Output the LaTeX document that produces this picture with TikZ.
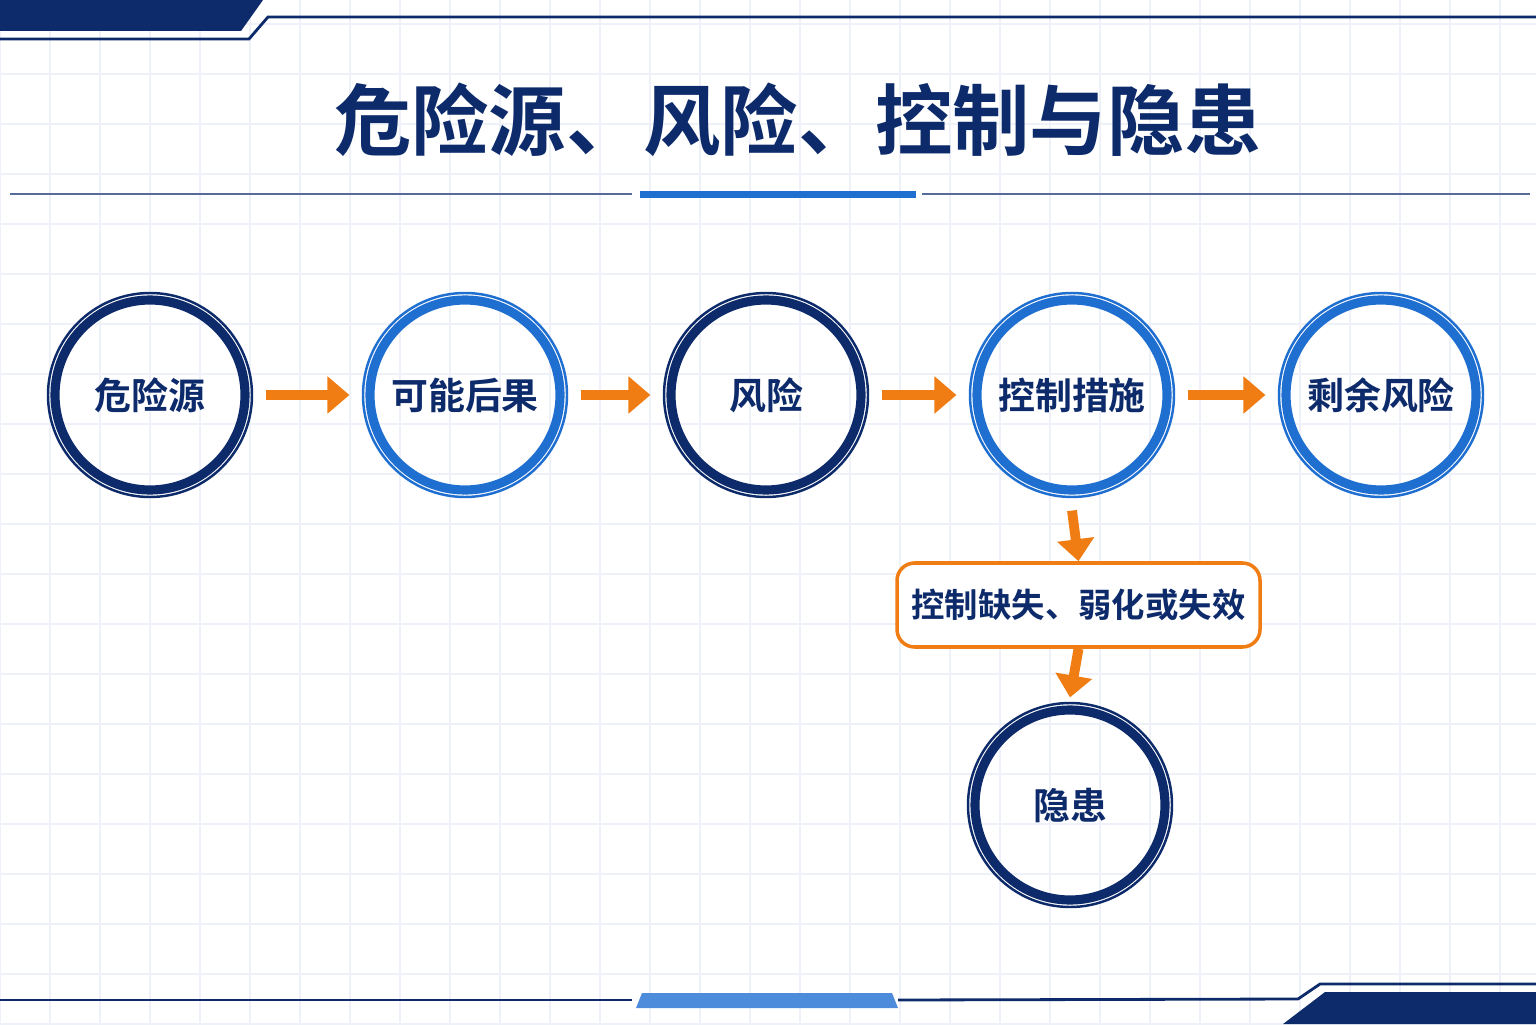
\documentclass[tikz,border=0pt]{standalone}
\usepackage{fontspec}
\newfontfamily\cjk{Noto Sans CJK SC}
\newfontfamily\cjkbold{Noto Sans CJK SC Bold}
\usetikzlibrary{arrows.meta,positioning}
\definecolor{navy}{HTML}{0D2B6B}
\definecolor{midblue}{HTML}{1F6FD1}
\definecolor{flow}{HTML}{F07D14}
\definecolor{gridc}{HTML}{EEF2F8}
\begin{document}
\begin{tikzpicture}[
    stage/.style={circle, draw=#1, line width=2.6pt, minimum size=1.9cm, inner sep=0pt,
      font=\cjkbold\fontsize{10.5}{12}\selectfont, text=navy,
      append after command={\pgfextra{\draw[#1, line width=0.7pt] (\tikzlastnode.center) circle (1.02cm);}}},
    stage/.default=navy,
    fail/.style={rectangle, rounded corners=5pt, draw=flow, line width=1pt, fill=white,
      minimum width=3.63cm, minimum height=0.84cm, font=\cjkbold\fontsize{9.5}{11}\selectfont, text=navy},
    go/.style={draw=flow, line width=2.8pt, -{Triangle[length=0.22cm, width=0.36cm]}}
]
\useasboundingbox (0,0) rectangle (15.36,10.24);
\fill[white] (0,0) rectangle (15.36,10.24);
\draw[gridc, line width=0.3pt, step=0.5] (0,0) grid (15.36,10.24);

% Frame decoration
\fill[navy] (0,10.24) -- (2.63,10.24) -- (2.41,9.93) -- (0,9.93) -- cycle;
\draw[navy, line width=0.8pt] (0,9.85) -- (2.49,9.85) -- (2.68,10.07) -- (15.36,10.07);
\fill[navy] (12.83,0) -- (13.25,0.32) -- (15.36,0.32) -- (15.36,0) -- cycle;
\draw[navy, line width=0.8pt] (0,0.24) -- (6.32,0.24);
\draw[navy, line width=0.8pt] (8.98,0.24) -- (12.98,0.25) -- (13.2,0.40) -- (15.36,0.40);
\fill[midblue!80] (6.36,0.16) -- (8.98,0.16) -- (8.92,0.31) -- (6.42,0.31) -- cycle;

% Title
\node (title) at (7.98,9.04) {\cjkbold\fontsize{22}{26}\selectfont\color{navy}危险源、风险、控制与隐患};
\draw[navy!70, line width=0.6pt] (0.1,8.30) -- (6.32,8.30);
\draw[navy!70, line width=0.6pt] (9.22,8.30) -- (15.3,8.30);
\fill[midblue] (6.40,8.26) rectangle (9.16,8.33);

% Stages
\node[stage] (hazard) at (1.50,6.29) {危险源};
\node[stage=midblue] (conseq) at (4.65,6.29) {可能后果};
\node[stage] (risk) at (7.66,6.29) {风险};
\node[stage=midblue] (control) at (10.72,6.29) {控制措施};
\node[stage=midblue] (residual) at (13.81,6.29) {剩余风险};
\node[fail] (lapse) at (10.785,4.19) {控制缺失、弱化或失效};
\node[stage] (latent) at (10.70,2.19) {隐患};

% Flow
\draw[go] ([xshift=0.16cm]hazard.east) -- ([xshift=-0.16cm]conseq.west);
\draw[go] ([xshift=0.16cm]conseq.east) -- ([xshift=-0.16cm]risk.west);
\draw[go] ([xshift=0.16cm]risk.east) -- ([xshift=-0.16cm]control.west);
\draw[go] ([xshift=0.16cm]control.east) -- ([xshift=-0.16cm]residual.west);
\draw[go] ([yshift=-0.16cm]control.south) -- (lapse.north);
\draw[go] (lapse.south) -- ([yshift=0.08cm]latent.north);
\end{tikzpicture}
\end{document}
